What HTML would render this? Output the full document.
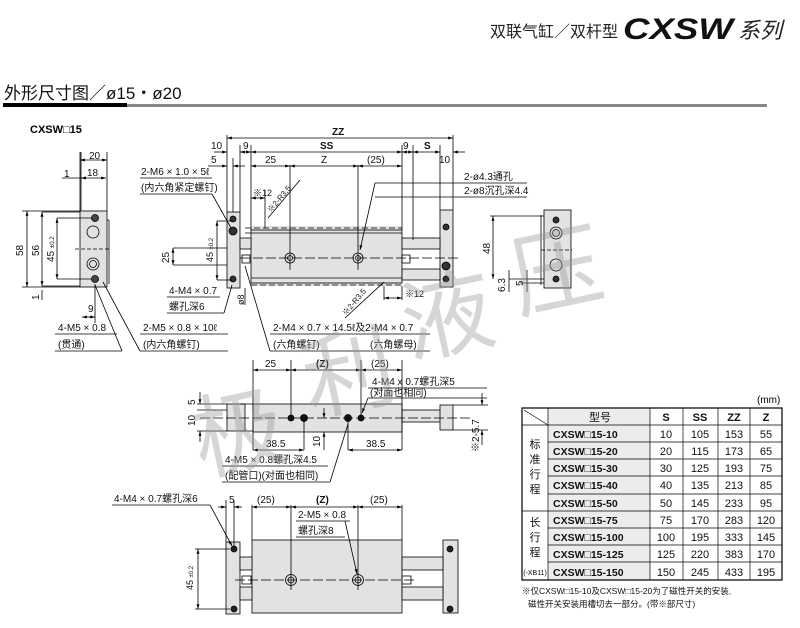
<!DOCTYPE html>
<html><head><meta charset="utf-8"><style>
html,body{margin:0;padding:0;background:#fff;}
svg{display:block;font-family:"Liberation Sans","Noto Sans CJK SC",sans-serif;}
</style></head><body>
<svg width="800" height="628" viewBox="0 0 800 628" xmlns="http://www.w3.org/2000/svg">
<defs>
<marker id="a" viewBox="0 0 10 10" refX="10" refY="5" markerWidth="6" markerHeight="6" orient="auto-start-reverse"><path d="M0,2L10,5L0,8z" fill="#000"/></marker>
</defs>
<!-- header -->
<text x="490" y="37" font-size="16" fill="#222">双联气缸／双杆型</text>
<text x="623" y="39" font-size="30" font-weight="bold" font-style="italic" fill="#111" textLength="110" lengthAdjust="spacingAndGlyphs">CXSW</text>
<text x="738" y="38" font-size="22" fill="#222" font-style="italic">系列</text>
<text x="4" y="99" font-size="17" fill="#111">外形尺寸图／ø15・ø20</text>
<rect x="3" y="103" width="124" height="4" fill="#000"/>
<rect x="127" y="104" width="640" height="3" fill="#888"/>
<text x="30" y="133" font-size="11" font-weight="bold">CXSW□15</text>

<g stroke="#000" stroke-width="0.8" fill="none">
<!-- LEFT VIEW -->
<rect x="80" y="211" width="27" height="76" fill="#e2e2e2"/>
<line x1="80" y1="211" x2="80" y2="152"/><line x1="107" y1="211" x2="107" y2="152"/>
<line x1="107" y1="220" x2="109" y2="220"/><line x1="109" y1="220" x2="109" y2="284"/>
<line x1="81" y1="152" x2="81" y2="211"/>
<line x1="80" y1="160" x2="107" y2="160" marker-start="url(#a)" marker-end="url(#a)"/>
<line x1="81" y1="178" x2="106" y2="178" marker-start="url(#a)" marker-end="url(#a)"/>
<line x1="62" y1="178" x2="81" y2="178"/>
<circle cx="95" cy="218" r="3.5" fill="#444"/>
<circle cx="93" cy="232" r="6"/>
<circle cx="93" cy="264" r="6"/><circle cx="93" cy="264" r="3.5"/>
<circle cx="95" cy="279" r="3.5" fill="#444"/>
<line x1="75" y1="249" x2="110" y2="249" stroke-dasharray="4,2"/>
<line x1="22" y1="211" x2="80" y2="211"/><line x1="22" y1="287" x2="80" y2="287"/>
<line x1="27" y1="211" x2="27" y2="287" marker-start="url(#a)" marker-end="url(#a)"/>
<line x1="42" y1="212" x2="42" y2="286" marker-start="url(#a)" marker-end="url(#a)"/>
<line x1="42" y1="212" x2="80" y2="212"/><line x1="42" y1="286" x2="80" y2="286"/>
<line x1="57" y1="218" x2="57" y2="279" marker-start="url(#a)" marker-end="url(#a)"/>
<line x1="57" y1="218" x2="92" y2="218"/><line x1="57" y1="279" x2="92" y2="279"/>
<line x1="42" y1="290" x2="42" y2="300"/>
<line x1="95" y1="284" x2="95" y2="323"/>
<line x1="82" y1="317" x2="95" y2="317" marker-start="url(#a)" marker-end="url(#a)"/>
<line x1="55" y1="334" x2="117" y2="334"/><line x1="55" y1="351" x2="122" y2="351"/>
<line x1="95" y1="285" x2="122" y2="351"/>
<line x1="103" y1="282" x2="140" y2="351"/>
<line x1="140" y1="334" x2="228" y2="334"/><line x1="140" y1="351" x2="228" y2="351"/>

<!-- TOP VIEW -->
<rect x="227" y="212" width="13" height="76" fill="#e2e2e2"/>
<rect x="251" y="226" width="151" height="60" fill="#e2e2e2" stroke="none"/>
<rect x="251" y="230" width="151" height="53" fill="#e2e2e2"/>
<rect x="440" y="210" width="13" height="77" fill="#e2e2e2"/>
<rect x="240" y="238" width="11" height="11" fill="#e2e2e2"/>
<rect x="402" y="238" width="38" height="11" fill="#e2e2e2"/>
<rect x="402" y="269" width="38" height="11" fill="#e2e2e2"/>
<rect x="242" y="255" width="8" height="8"/><rect x="402" y="255" width="8" height="8"/>
<line x1="245" y1="233" x2="402" y2="233"/><line x1="245" y1="228" x2="402" y2="228" stroke-dasharray="6,3"/>
<line x1="251" y1="278" x2="402" y2="278"/><line x1="251" y1="285" x2="402" y2="285" stroke-dasharray="6,3"/>
<line x1="240" y1="258" x2="460" y2="258" stroke-dasharray="10,3"/>
<circle cx="290" cy="258" r="5"/><circle cx="290" cy="258" r="2.5"/>
<circle cx="358" cy="258" r="5"/><circle cx="358" cy="258" r="2.5"/>
<line x1="290" y1="165" x2="290" y2="270"/><line x1="358" y1="165" x2="358" y2="270"/>
<circle cx="233" cy="219" r="3" fill="#333"/><circle cx="233" cy="231" r="4" fill="#333"/><circle cx="233" cy="279" r="3" fill="#333"/>
<circle cx="446" cy="227" r="3" fill="#333"/><circle cx="446" cy="266" r="4" fill="#333"/><circle cx="446" cy="279" r="3" fill="#333"/>
<line x1="227" y1="212" x2="227" y2="135"/><line x1="453" y1="210" x2="453" y2="135"/>
<line x1="227" y1="138" x2="453" y2="138" marker-start="url(#a)" marker-end="url(#a)"/>
<line x1="214" y1="152" x2="227" y2="152" marker-end="url(#a)"/><line x1="240" y1="152" x2="251" y2="152" marker-start="url(#a)" marker-end="url(#a)"/>
<line x1="251" y1="152" x2="402" y2="152" marker-start="url(#a)" marker-end="url(#a)"/>
<line x1="402" y1="152" x2="413" y2="152" marker-start="url(#a)" marker-end="url(#a)"/>
<line x1="413" y1="152" x2="440" y2="152" marker-start="url(#a)" marker-end="url(#a)"/>
<line x1="453" y1="152" x2="465" y2="152" marker-start="url(#a)"/>
<line x1="240" y1="145" x2="240" y2="212"/><line x1="251" y1="145" x2="251" y2="230"/>
<line x1="402" y1="145" x2="402" y2="230"/><line x1="413" y1="145" x2="413" y2="240"/><line x1="440" y1="145" x2="440" y2="210"/>
<line x1="208" y1="166" x2="227" y2="166" marker-end="url(#a)"/><line x1="233" y1="166" x2="245" y2="166" marker-start="url(#a)"/>
<line x1="233" y1="158" x2="233" y2="212"/>
<line x1="251" y1="166" x2="290" y2="166" marker-start="url(#a)" marker-end="url(#a)"/>
<line x1="290" y1="166" x2="358" y2="166" marker-start="url(#a)" marker-end="url(#a)"/>
<line x1="358" y1="166" x2="402" y2="166" marker-start="url(#a)" marker-end="url(#a)"/>
<line x1="251" y1="198" x2="265" y2="198" marker-start="url(#a)" marker-end="url(#a)"/>
<line x1="265" y1="190" x2="265" y2="228"/>
<line x1="268" y1="218" x2="300" y2="180"/>
<line x1="345" y1="318" x2="384" y2="282"/>
<line x1="384" y1="286" x2="384" y2="300"/><line x1="402" y1="286" x2="402" y2="300"/>
<line x1="384" y1="298" x2="402" y2="298" marker-start="url(#a)" marker-end="url(#a)"/>
<line x1="375" y1="183" x2="360" y2="250" marker-end="url(#a)"/>
<line x1="375" y1="183" x2="527" y2="183"/><line x1="375" y1="197" x2="527" y2="197"/>
<line x1="140" y1="178" x2="212" y2="178"/><line x1="140" y1="194" x2="212" y2="194"/>
<line x1="212" y1="194" x2="231" y2="228"/>
<line x1="217" y1="221" x2="217" y2="280" marker-start="url(#a)" marker-end="url(#a)"/>
<line x1="217" y1="221" x2="232" y2="221"/><line x1="217" y1="280" x2="232" y2="280"/>
<line x1="173" y1="248" x2="173" y2="265" marker-start="url(#a)" marker-end="url(#a)"/>
<line x1="173" y1="248" x2="227" y2="248"/><line x1="173" y1="265" x2="227" y2="265"/>
<line x1="167" y1="297" x2="220" y2="297"/><line x1="167" y1="313" x2="224" y2="313"/>
<line x1="224" y1="313" x2="232" y2="285"/>
<line x1="245" y1="288" x2="245" y2="305"/>
<line x1="245" y1="266" x2="270" y2="351"/>
<line x1="270" y1="334" x2="430" y2="334"/><line x1="270" y1="351" x2="430" y2="351"/>
<!-- right view -->
<rect x="544" y="210" width="27" height="78" fill="#e2e2e2"/>
<line x1="541" y1="215" x2="541" y2="285"/>
<circle cx="556" cy="220" r="3" fill="#333"/><circle cx="556" cy="233" r="6"/><circle cx="556" cy="233" r="3.5"/>
<circle cx="556" cy="265" r="6"/><circle cx="556" cy="279" r="3" fill="#333"/>
<line x1="541" y1="250" x2="572" y2="250" stroke-dasharray="4,2"/>
<line x1="490" y1="216" x2="544" y2="216"/>
<line x1="493" y1="216" x2="493" y2="279" marker-start="url(#a)" marker-end="url(#a)"/>
<line x1="509" y1="270" x2="509" y2="292"/><line x1="527" y1="270" x2="527" y2="292"/>
<line x1="509" y1="279" x2="544" y2="279"/><line x1="520" y1="283" x2="544" y2="283"/>

<!-- SIDE VIEW -->
<rect x="227" y="404" width="18" height="27" fill="#e2e2e2"/>
<rect x="253" y="404" width="149" height="28" fill="#e2e2e2"/>
<rect x="402" y="410" width="40" height="12" fill="#e2e2e2"/>
<rect x="440" y="405" width="13" height="25" fill="#e2e2e2"/>
<line x1="240" y1="404" x2="253" y2="404"/><line x1="240" y1="431" x2="253" y2="431"/>
<line x1="200" y1="418" x2="470" y2="418" stroke-dasharray="10,3"/>
<circle cx="291" cy="418" r="3" fill="#111"/><circle cx="304" cy="418" r="3.5" fill="#111"/>
<circle cx="348" cy="418" r="3.5" fill="#111"/><circle cx="361" cy="418" r="3" fill="#111"/>
<line x1="253" y1="360" x2="253" y2="450"/><line x1="402" y1="360" x2="402" y2="450"/>
<line x1="291" y1="360" x2="291" y2="418"/><line x1="361" y1="360" x2="361" y2="418"/>
<line x1="253" y1="370" x2="291" y2="370" marker-start="url(#a)" marker-end="url(#a)"/>
<line x1="291" y1="370" x2="361" y2="370" marker-start="url(#a)" marker-end="url(#a)"/>
<line x1="361" y1="370" x2="402" y2="370" marker-start="url(#a)" marker-end="url(#a)"/>
<line x1="304" y1="418" x2="304" y2="450"/><line x1="348" y1="418" x2="348" y2="450"/>
<line x1="253" y1="450" x2="304" y2="450" marker-start="url(#a)" marker-end="url(#a)"/>
<line x1="348" y1="450" x2="402" y2="450" marker-start="url(#a)" marker-end="url(#a)"/>
<line x1="324" y1="408" x2="324" y2="418" marker-end="url(#a)"/><line x1="324" y1="450" x2="324" y2="432" marker-end="url(#a)"/>
<line x1="197" y1="404" x2="227" y2="404"/><line x1="197" y1="431" x2="227" y2="431"/><line x1="197" y1="410" x2="227" y2="410"/>
<line x1="200" y1="392" x2="200" y2="404" marker-end="url(#a)"/><line x1="200" y1="442" x2="200" y2="431" marker-end="url(#a)"/>
<line x1="368" y1="388" x2="487" y2="388"/><line x1="368" y1="398" x2="362" y2="413" marker-end="url(#a)"/>
<line x1="368" y1="398" x2="487" y2="398"/>
<line x1="222" y1="466" x2="328" y2="466"/><line x1="222" y1="482" x2="330" y2="482"/>
<line x1="330" y1="482" x2="348" y2="424"/>
<line x1="453" y1="405" x2="488" y2="405"/><line x1="453" y1="430" x2="488" y2="430"/>
<line x1="482" y1="393" x2="482" y2="405" marker-end="url(#a)"/><line x1="482" y1="445" x2="482" y2="430" marker-end="url(#a)"/>

<!-- BOTTOM VIEW -->
<rect x="226" y="542" width="14" height="72" fill="#e2e2e2"/>
<rect x="252" y="540" width="150" height="73" fill="#e2e2e2"/>
<rect x="443" y="540" width="15" height="73" fill="#e2e2e2"/>
<rect x="240" y="557" width="12" height="13" fill="#e2e2e2"/><rect x="402" y="557" width="41" height="13" fill="#e2e2e2"/>
<rect x="240" y="587" width="12" height="13" fill="#e2e2e2"/><rect x="402" y="587" width="41" height="13" fill="#e2e2e2"/>
<line x1="235" y1="580" x2="415" y2="580" stroke-dasharray="10,3"/>
<circle cx="291" cy="580" r="5.5"/><circle cx="291" cy="580" r="3"/>
<circle cx="358" cy="580" r="5.5"/><circle cx="358" cy="580" r="3"/>
<rect x="242" y="576" width="9" height="8"/><rect x="402" y="576" width="9" height="8"/>
<circle cx="234" cy="549" r="3" fill="#222"/><circle cx="234" cy="609" r="3" fill="#222"/>
<circle cx="450" cy="549" r="3" fill="#222"/><circle cx="450" cy="609" r="3" fill="#222"/>
<line x1="252" y1="505" x2="252" y2="540"/><line x1="402" y1="505" x2="402" y2="540"/>
<line x1="291" y1="505" x2="291" y2="590"/><line x1="358" y1="505" x2="358" y2="590"/>
<line x1="252" y1="507" x2="291" y2="507" marker-start="url(#a)" marker-end="url(#a)"/>
<line x1="291" y1="507" x2="358" y2="507" marker-start="url(#a)" marker-end="url(#a)"/>
<line x1="358" y1="507" x2="402" y2="507" marker-start="url(#a)" marker-end="url(#a)"/>
<line x1="226" y1="500" x2="226" y2="542"/><line x1="234" y1="500" x2="234" y2="549"/>
<line x1="218" y1="507" x2="226" y2="507" marker-end="url(#a)"/><line x1="242" y1="507" x2="234" y2="507" marker-end="url(#a)"/>
<line x1="112" y1="505" x2="210" y2="505"/><line x1="210" y1="505" x2="232" y2="546" marker-end="url(#a)"/>
<line x1="296" y1="521" x2="350" y2="521"/><line x1="296" y1="537" x2="345" y2="537"/>
<line x1="345" y1="521" x2="357" y2="574" marker-end="url(#a)"/>
<line x1="195" y1="549" x2="230" y2="549"/><line x1="195" y1="609" x2="230" y2="609"/>
<line x1="198" y1="549" x2="198" y2="609" marker-start="url(#a)" marker-end="url(#a)"/>
</g>

<g font-size="10" fill="#111">
<text x="89" y="159">20</text><text x="64" y="177">1</text><text x="87" y="176">18</text>
<text x="88" y="312">9</text>
<text x="58" y="331">4-M5 × 0.8</text><text x="58" y="348">(贯通)</text>
<text x="143" y="331">2-M5 × 0.8 × 10ℓ</text><text x="143" y="348">(内六角螺钉)</text>
<text x="23" y="256" transform="rotate(-90 23 256)">58</text>
<text x="39" y="256" transform="rotate(-90 39 256)">56</text>
<text x="54" y="262" transform="rotate(-90 54 262)">45 <tspan font-size="6">±0.2</tspan></text>
<text x="39" y="300" transform="rotate(-90 39 300)">1</text>
<text x="332" y="135" font-weight="bold">ZZ</text>
<text x="211" y="149">10</text><text x="243" y="149">9</text><text x="320" y="149" font-weight="bold">SS</text>
<text x="403" y="149">9</text><text x="424" y="149" font-weight="bold">S</text><text x="439" y="163">10</text>
<text x="211" y="163">5</text><text x="265" y="163">25</text><text x="321" y="163">Z</text><text x="367" y="163">(25)</text>
<text x="253" y="196" font-size="9">※12</text>
<text x="271" y="213" font-size="8" transform="rotate(-50 271 213)">※2-R3.5</text>
<text x="346" y="316" font-size="8" transform="rotate(-50 346 316)">※2-R3.5</text>
<text x="405" y="297" font-size="9">※12</text>
<text x="141" y="175">2-M6 × 1.0 × 5ℓ</text><text x="141" y="191">(内六角紧定螺钉)</text>
<text x="464" y="180">2-ø4.3通孔</text><text x="464" y="194">2-ø8沉孔深4.4</text>
<text x="213" y="262" transform="rotate(-90 213 262)" font-size="9">45 <tspan font-size="6">±0.2</tspan></text>
<text x="169" y="263" transform="rotate(-90 169 263)">25</text>
<text x="169" y="294">4-M4 × 0.7</text><text x="169" y="310">螺孔深6</text>
<text x="244" y="305" transform="rotate(-90 244 305)" font-size="9">ø8</text>
<text x="273" y="331">2-M4 × 0.7 × 14.5ℓ及2-M4 × 0.7</text>
<text x="273" y="348">(六角螺钉)</text><text x="370" y="348">(六角螺母)</text>
<text x="490" y="254" transform="rotate(-90 490 254)">48</text>
<text x="505" y="292" transform="rotate(-90 505 292)">6.3</text>
<text x="523" y="286" transform="rotate(-90 523 286)">5</text>
<text x="265" y="367">25</text><text x="316" y="367" font-weight="bold">(Z)</text><text x="371" y="367">(25)</text>
<text x="372" y="385">4-M4 x 0.7螺孔深5</text><text x="370" y="396">(对面也相同)</text>
<text x="195" y="405" transform="rotate(-90 195 405)">5</text>
<text x="195" y="426" transform="rotate(-90 195 426)">10</text>
<text x="266" y="447">38.5</text><text x="366" y="447">38.5</text>
<text x="320" y="447" transform="rotate(-90 320 447)">10</text>
<text x="479" y="452" transform="rotate(-90 479 452)">※2-5.7</text>
<text x="225" y="463">4-M5 × 0.8螺孔深4.5</text><text x="225" y="479">(配管口)(对面也相同)</text>
<text x="114" y="502">4-M4 × 0.7螺孔深6</text>
<text x="229" y="503">5</text><text x="257" y="503">(25)</text><text x="316" y="503" font-weight="bold">(Z)</text><text x="370" y="503">(25)</text>
<text x="298" y="518">2-M5 × 0.8</text><text x="298" y="534">螺孔深8</text>
<text x="193" y="590" transform="rotate(-90 193 590)" font-size="9">45 <tspan font-size="6">±0.2</tspan></text>
</g>

<!-- TABLE -->
<text x="757" y="403" font-size="10">(mm)</text>
<g font-size="11" fill="#111">
<rect x="548" y="408" width="102" height="17" fill="#ececec"/>
<rect x="548" y="425" width="102" height="155" fill="#ececec"/>
<g stroke="#000" stroke-width="0.7">
<rect x="522" y="408" width="260" height="172" fill="none" stroke-width="1.2"/>
<line x1="522" y1="425" x2="782" y2="425"/>
<line x1="522" y1="511" x2="782" y2="511"/>
<line x1="548" y1="442" x2="782" y2="442"/><line x1="548" y1="459" x2="782" y2="459"/>
<line x1="548" y1="476" x2="782" y2="476"/><line x1="548" y1="494" x2="782" y2="494"/>
<line x1="548" y1="528" x2="782" y2="528"/><line x1="548" y1="545" x2="782" y2="545"/><line x1="548" y1="562" x2="782" y2="562"/>
<line x1="548" y1="408" x2="548" y2="580"/><line x1="650" y1="408" x2="650" y2="580"/>
<line x1="683" y1="408" x2="683" y2="580"/><line x1="718" y1="408" x2="718" y2="580"/><line x1="750" y1="408" x2="750" y2="580"/>
<line x1="524" y1="410" x2="548" y2="425"/>
</g>
<text x="589" y="421">型号</text>
<g font-weight="bold" text-anchor="middle"><text x="666" y="421">S</text><text x="700" y="421">SS</text><text x="734" y="421">ZZ</text><text x="766" y="421">Z</text></g>
<g font-weight="bold" font-size="10.5">
<text x="553" y="438">CXSW□15-10</text><text x="553" y="455">CXSW□15-20</text><text x="553" y="472">CXSW□15-30</text>
<text x="553" y="489">CXSW□15-40</text><text x="553" y="507">CXSW□15-50</text><text x="553" y="524">CXSW□15-75</text>
<text x="553" y="541">CXSW□15-100</text><text x="553" y="558">CXSW□15-125</text><text x="553" y="576">CXSW□15-150</text>
</g>
<g text-anchor="middle">
<text x="666" y="438">10</text><text x="700" y="438">105</text><text x="734" y="438">153</text><text x="766" y="438">55</text>
<text x="666" y="455">20</text><text x="700" y="455">115</text><text x="734" y="455">173</text><text x="766" y="455">65</text>
<text x="666" y="472">30</text><text x="700" y="472">125</text><text x="734" y="472">193</text><text x="766" y="472">75</text>
<text x="666" y="489">40</text><text x="700" y="489">135</text><text x="734" y="489">213</text><text x="766" y="489">85</text>
<text x="666" y="507">50</text><text x="700" y="507">145</text><text x="734" y="507">233</text><text x="766" y="507">95</text>
<text x="666" y="524">75</text><text x="700" y="524">170</text><text x="734" y="524">283</text><text x="766" y="524">120</text>
<text x="666" y="541">100</text><text x="700" y="541">195</text><text x="734" y="541">333</text><text x="766" y="541">145</text>
<text x="666" y="558">125</text><text x="700" y="558">220</text><text x="734" y="558">383</text><text x="766" y="558">170</text>
<text x="666" y="576">150</text><text x="700" y="576">245</text><text x="734" y="576">433</text><text x="766" y="576">195</text>
<text x="535" y="448">标</text><text x="535" y="463">准</text><text x="535" y="478">行</text><text x="535" y="493">程</text>
<text x="535" y="526">长</text><text x="535" y="541">行</text><text x="535" y="556">程</text>
<text x="535" y="575" font-size="7">(-XB11)</text>
</g>
<text x="522" y="594" font-size="8.5">※仅CXSW□15-10及CXSW□15-20为了磁性开关的安装,</text>
<text x="528" y="607" font-size="8.5">磁性开关安装用槽切去一部分。(带※部尺寸)</text>
</g>

<!-- watermark -->
<g font-size="92" fill="#999" fill-opacity="0.4" font-family="'Noto Sans CJK SC',sans-serif">
<text x="190" y="465" transform="rotate(-12 240 420)">极</text>
<text x="300" y="405" transform="rotate(-12 350 360)">利</text>
<text x="398" y="350" transform="rotate(-12 440 300)">液</text>
<text x="508" y="305" transform="rotate(-12 550 260)">压</text>
</g>
</svg>
</body></html>
